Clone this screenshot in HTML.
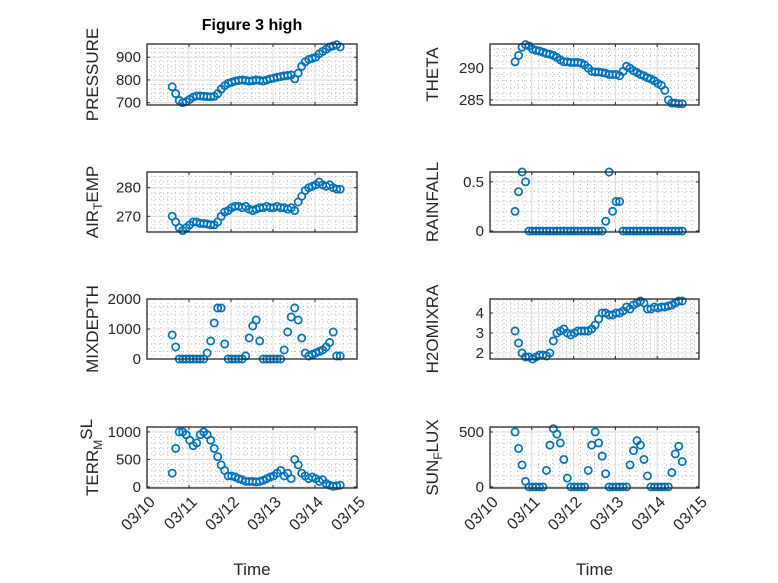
<!DOCTYPE html>
<html><head><meta charset="utf-8"><style>
html,body{margin:0;padding:0;background:#fff;}
svg{display:block;font-family:"Liberation Sans","DejaVu Sans",sans-serif;}
</style></head><body>
<svg id="fig" width="778" height="583" viewBox="0 0 778 583" xmlns="http://www.w3.org/2000/svg">
<rect width="778" height="583" fill="#fff"/>
<text x="252" y="30" text-anchor="middle" font-size="16" font-weight="bold" fill="#000">Figure 3 high</text>
</svg>
<script>
// time: days after 03/10 00:00, 2-hour samples starting at 0.6
const startDay = 0.6;
const stepDay = 1/12;
const dateLabels = ["03/10","03/11","03/12","03/13","03/14","03/15"];
const pressure = [770,740,710,700,705,715,725,730,730,728,727,726,
 728,740,760,775,785,790,795,798,800,798,795,797,
 800,798,795,800,805,808,812,815,818,820,822,805,
 830,860,880,890,895,900,915,925,935,945,950,955,945];
const airTemp = [270,268,266,265,266,267,268,268,267.5,267.5,267.3,267,
 267,268,270,271.5,272,273,273.5,273.5,273,273.5,272.5,272,
 272.5,273,273,273.5,273,273,273.5,273,273,272.5,273,272,
 275,277,279,280,280.5,281,282,281,280.5,281,280,279.5,279.5];
const theta = [291,292,293.3,293.7,293.5,293,292.8,292.7,292.5,292.3,292.2,292,
 291.7,291.3,291,291,290.9,290.9,290.9,290.8,290.5,290,289.5,289.4,
 289.4,289.3,289.2,289,289,289,288.8,289.5,290.3,290,289.6,289.3,
 289,288.8,288.5,288.3,288,287.6,287.3,286.5,285,284.5,284.5,284.4,284.4];
const rainfall = [0.2,0.4,0.6,0.5,0,0,0,0,0,0,0,0,
 0,0,0,0,0,0,0,0,0,0,0,0,
 0,0,0.1,0.6,0.2,0.3,0.3,0,0,0,0,0,
 0,0,0,0,0,0,0,0,0,0,0,0,0];
const mixDepth = [800,400,0,0,0,0,0,0,0,0,200,600,
 1200,1700,1700,500,0,0,0,0,0,100,700,1100,
 1300,600,0,0,0,0,0,0,300,900,1400,1700,
 1300,700,200,100,150,200,250,300,400,550,900,100,100];
const h2oMix = [3.1,2.5,2.0,1.8,1.8,1.7,1.8,1.9,1.9,1.85,2.0,2.6,
 3.0,3.1,3.2,3.0,2.9,3.0,3.1,3.1,3.1,3.1,3.2,3.4,
 3.7,4.0,4.0,3.9,3.9,4.0,4.0,4.1,4.3,4.2,4.4,4.5,
 4.6,4.5,4.2,4.2,4.3,4.25,4.3,4.3,4.35,4.4,4.5,4.6,4.6];
const terrMsl = [250,700,1000,1000,950,850,750,800,950,1000,950,850,
 700,550,400,300,200,200,180,150,130,100,100,100,
 90,100,120,150,180,200,250,300,200,250,150,500,
 400,250,200,150,180,150,100,130,60,30,10,20,30];
const sunFlux = [500,350,200,50,0,0,0,0,0,150,380,530,
 480,400,250,80,0,0,0,0,0,150,380,500,
 400,280,120,0,0,0,0,0,0,200,330,420,
 380,250,100,0,0,0,0,0,0,130,300,370,230];
const pressureTicks=[700,800,900], airTempTicks=[270,280], thetaTicks=[285,290], rainTicks=[0,0.5],
      mixTicks=[0,1000,2000], h2oTicks=[2,3,4], terrTicks=[0,500,1000], sunTicks=[0,500];

const NS="http://www.w3.org/2000/svg";
const svg=document.getElementById('fig');
function mk(tag,attrs,parent){const e=document.createElementNS(NS,tag);for(const k in attrs)e.setAttribute(k,attrs[k]);(parent||svg).appendChild(e);return e;}

const cols=[[147,357],[490,699]];
const rows=[[44,105],[172,232],[299,359],[427,488]];
const panels=[
 {key:'pressure',data:pressure,ticks:pressureTicks,lim:[690,958],minor:20,c:0,r:0,label:[['PRESSURE','']]},
 {key:'theta',data:theta,ticks:thetaTicks,lim:[284.2,293.8],minor:1,c:1,r:0,label:[['THETA','']]},
 {key:'air-temp',data:airTemp,ticks:airTempTicks,lim:[264.5,285.5],minor:2,c:0,r:1,label:[['AIR',''],['T','sub'],['EMP','']]},
 {key:'rainfall',data:rainfall,ticks:rainTicks,lim:[-0.01,0.6],minor:0.1,c:1,r:1,label:[['RAINFALL','']]},
 {key:'mixdepth',data:mixDepth,ticks:mixTicks,lim:[0,2000],minor:250,c:0,r:2,label:[['MIXDEPTH','']]},
 {key:'h2omixra',data:h2oMix,ticks:h2oTicks,lim:[1.7,4.7],minor:0.2,c:1,r:2,label:[['H2OMIXRA','']]},
 {key:'terr-msl',data:terrMsl,ticks:terrTicks,lim:[-20,1090],minor:100,c:0,r:3,label:[['TERR',''],['M','sub'],['SL','sup']]},
 {key:'sun-flux',data:sunFlux,ticks:sunTicks,lim:[-10,545],minor:100,c:1,r:3,label:[['SUN',''],['F','sub'],['LUX','']]}
];

panels.forEach(p=>{
 const [x0,x1]=cols[p.c], [y0,y1]=rows[p.r];
 const g=mk('g',{});
 
 
 const xs=d=>x0+(x1-x0)*d/5;
 const ys=v=>y1-(y1-y0)*(v-p.lim[0])/(p.lim[1]-p.lim[0]);
 for(let d=0;d<5;d+=1/6){const x=xs(d);mk('line',{x1:x,x2:x,y1:y0,y2:y1,stroke:'#bbb','stroke-width':1,'stroke-dasharray':'1,3'},g);}
 const m0=Math.ceil(p.lim[0]/p.minor)*p.minor;
 for(let v=m0;v<=p.lim[1];v+=p.minor){const y=ys(v);mk('line',{x1:x0,x2:x1,y1:y,y2:y,stroke:'#bbb','stroke-width':1,'stroke-dasharray':'1,3'},g);}
 for(let d=1;d<5;d++){const x=xs(d);mk('line',{x1:x,x2:x,y1:y0,y2:y1,stroke:'#dcdcdc','stroke-width':1},g);}
 p.ticks.forEach(v=>{const y=ys(v);mk('line',{x1:x0,x2:x1,y1:y,y2:y,stroke:'#dcdcdc','stroke-width':1},g);
   mk('line',{x1:x0,x2:x0+3,y1:y,y2:y,stroke:'#262626'},g);mk('line',{x1:x1,x2:x1-3,y1:y,y2:y,stroke:'#262626'},g);
   const t=mk('text',{x:x0-6,y:y+5,'text-anchor':'end','font-size':15,fill:'#262626'},g);t.textContent=String(v);
   
   });
 for(let d=0;d<=5;d++){const x=xs(d);mk('line',{x1:x,x2:x,y1:y1,y2:y1-3,stroke:'#262626'},g);mk('line',{x1:x,x2:x,y1:y0,y2:y0+3,stroke:'#262626'},g);}
 p.data.forEach((v,i)=>{const c=mk('circle',{cx:xs(startDay+i*stepDay),cy:ys(v),r:3.6,fill:'none',stroke:'#0072BD','stroke-width':1.7},g);
   
   });
 mk('rect',{x:x0,y:y0,width:x1-x0,height:y1-y0,fill:'none',stroke:'#262626','stroke-width':1.3},g);
 const lx=p.c===0?98:438, ly=(y0+y1)/2;
 const t=mk('text',{transform:`translate(${lx},${ly}) rotate(-90)`,'text-anchor':'middle','font-size':17,fill:'#262626'},g);
 
 
 p.label.forEach(([s,k])=>{const ts=mk('tspan',{},t);ts.textContent=s;
   if(k==='sub'){ts.setAttribute('font-size','12');ts.setAttribute('dy','4');}
   else if(k==='sup'){ts.setAttribute('dy','-10');}
   else if(t.childNodes.length>1){ts.setAttribute('dy','-4');}});
 if(p.r===3){
  dateLabels.forEach((s,d)=>{const x=xs(d);const tl=mk('text',{transform:`translate(${x+9},${y1+15}) rotate(-45)`,'text-anchor':'end','font-size':16,fill:'#262626'},g);tl.textContent=s;
    
    });
  const xt=mk('text',{x:(x0+x1)/2,y:575,'text-anchor':'middle','font-size':17,fill:'#262626'},g);xt.textContent='Time';
  
  
 }
});
</script>
</body></html>
